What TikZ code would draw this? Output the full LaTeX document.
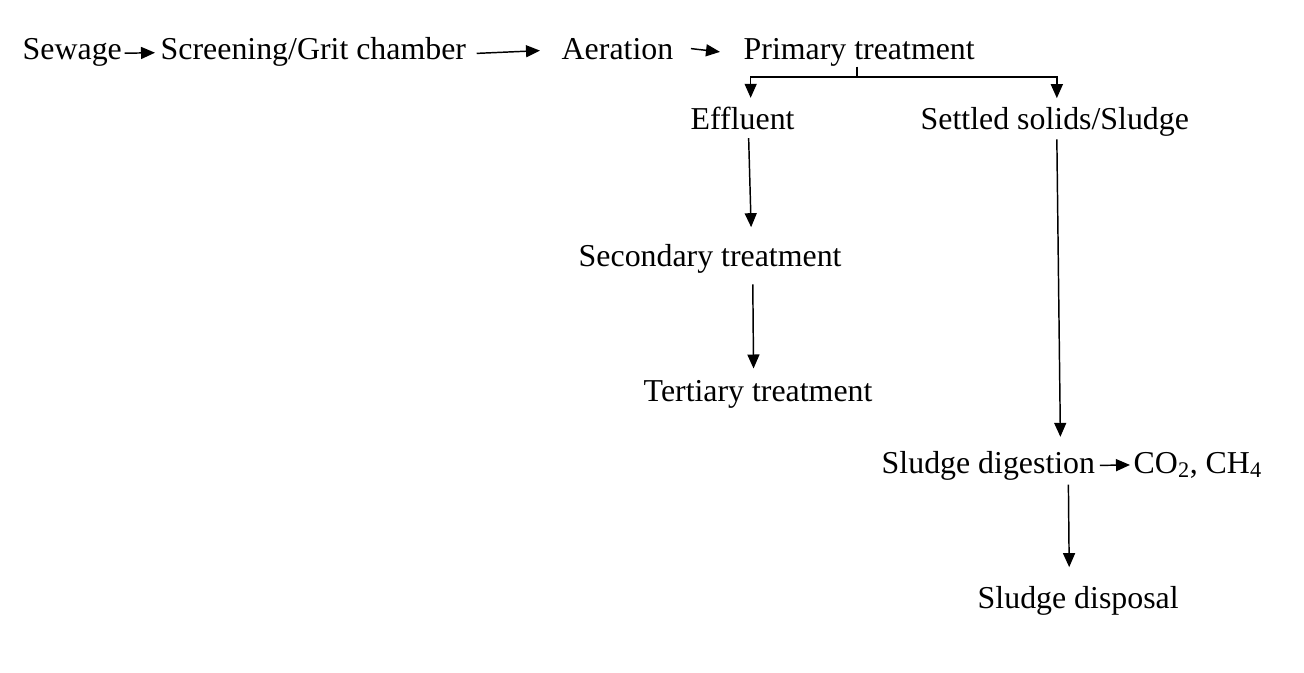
\documentclass[tikz,border=0pt]{standalone}
\usepackage{fontspec}
\setmainfont{Liberation Serif}
\usetikzlibrary{arrows.meta}

\tikzset{every picture/.style={line width=1.1pt}}
\tikzset{
  lbl/.style={anchor=base west, inner sep=0pt, font=\fontsize{23.9}{28}\selectfont},
  arr/.style={-{Triangle[length=10.5pt,width=9pt]}},
}

\begin{document}
\begin{tikzpicture}[x=0.75pt,y=0.75pt,yscale=-1,xscale=1]
%set diagram size
\useasboundingbox (0,0) rectangle (1304,672);

% Text Node
\draw (22,59) node [lbl] (sew) {Sewage};
% Text Node
\draw (160,59) node [lbl] (scr) {Screening/Grit chamber};
% Text Node
\draw (561,59) node [lbl] (aer) {Aeration};
% Text Node
\draw (743,59) node [lbl] (prim) {Primary treatment};
% Text Node
\draw (690,129) node [lbl] (eff) {Effluent};
% Text Node
\draw (920,129) node [lbl] (set) {Settled solids/Sludge};
% Text Node
\draw (578,266) node [lbl] (sec) {Secondary treatment};
% Text Node
\draw (643,401) node [lbl] (ter) {Tertiary treatment};
% Text Node
\draw (881,473) node [lbl] (dig) {Sludge digestion};
% Text Node
\draw (1133,473) node [lbl] (gas) {CO\textsubscript{2}, CH\textsubscript{4}};
% Text Node
\draw (977,608) node [lbl] (disp) {Sludge disposal};

%branch point
\coordinate (br) at (857,77);

%Straight Lines
\draw [arr] ([xshift=1.5pt,yshift=1pt]sew.east) -- ([xshift=-3.75pt,yshift=1pt]scr.west);
%Straight Lines
\draw [arr] ([xshift=7.5pt,yshift=1.5pt]scr.east) -- ([xshift=-15.75pt,yshift=1.5pt]aer.west);
%Straight Lines
\draw [arr] ([xshift=12.75pt]aer.east) -- ([xshift=-17.25pt]prim.west);
%Straight Lines
\draw (br |- prim.south) -- (br);
\draw [arr] (br) -| ([xshift=6pt,yshift=-6pt]eff.north);
\draw [arr] (br) -| ([xshift=1.5pt,yshift=-6pt]set.north);
%Straight Lines
\draw [arr] ([xshift=4.5pt,yshift=6pt]eff.south) -- ([xshift=30.75pt,yshift=-12pt]sec.north);
%Straight Lines
\draw [arr] ([xshift=32pt,yshift=8pt]sec.south) -- ([xshift=-3.4pt,yshift=-8pt]ter.north);
%Straight Lines
\draw [arr] ([xshift=1.5pt,yshift=2pt]set.south) -- ([xshift=54pt,yshift=-10pt]dig.north);
%Straight Lines
\draw [arr] ([xshift=3pt]dig.east) -- ([xshift=-2.25pt]gas.west);
%Straight Lines
\draw [arr] ([xshift=60pt,yshift=3pt]dig.south) -- ([xshift=-6.75pt,yshift=-13.5pt]disp.north);

\end{tikzpicture}
\end{document}
